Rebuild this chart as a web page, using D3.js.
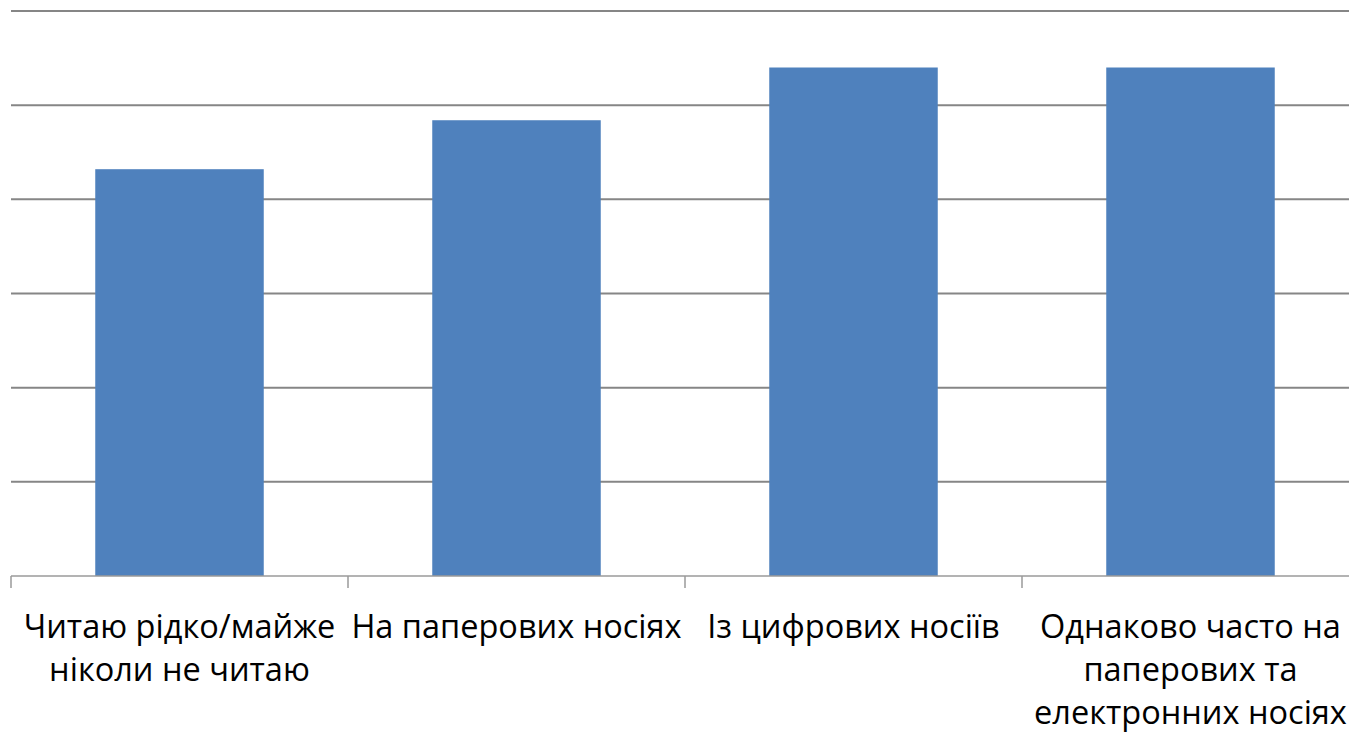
<!DOCTYPE html>
<html>
<head>
<meta charset="utf-8">
<script src="https://cdn.jsdelivr.net/npm/d3@7"></script>
<style>
  body { margin: 0; background: #fff; }
</style>
</head>
<body>
<div id="chart"></div>
<script>
const categories = [
    "Читаю рідко/майже ніколи не читаю",
    "На паперових носіях",
    "Із цифрових носіїв",
    "Однаково часто на паперових та електронних носіях"
];
const labelLines = [
    ["Читаю рідко/майже", "ніколи не читаю"],
    ["На паперових носіях"],
    ["Із цифрових носіїв"],
    ["Однаково часто на", "паперових та", "електронних носіях"]
];
const values = [21.6, 24.2, 27.0, 27.0];
const yTicks = [0, 5, 10, 15, 20, 25, 30];

const BAR = "#4F81BD";
const GRID = "#868686";

const width = 1349, height = 735;
const margin = { top: 11, right: -10, bottom: 159, left: 11 };

let svg = d3.select("#chart").append("svg")
    .attr("width", width)
    .attr("height", height);

let x = d3.scaleBand()
    .domain(categories)
    .range([margin.left, width - margin.right])
    .paddingInner(0.5)
    .paddingOuter(0.25);

let y = d3.scaleLinear()
    .domain([0, 30])
    .range([height - margin.bottom, margin.top]);

// horizontal gridlines
svg.append("g")
    .selectAll("line")
    .data(yTicks.slice(1))
    .join("line")
    .attr("x1", margin.left)
    .attr("x2", width - margin.right)
    .attr("y1", d => y(d))
    .attr("y2", d => y(d))
    .attr("stroke", GRID)
    .attr("stroke-width", 2);

svg.append("g")
    .selectAll("rect")
    .data(values)
    .join("rect")
    .attr("x", (d, i) => x(categories[i]))
    .attr("width", x.bandwidth())
    .attr("y", d => y(d))
    .attr("height", d => y(0) - y(d))
    .attr("fill", BAR);

// category axis with ticks between groups
let step = x.step();
let axis = svg.append("g");
axis.append("line")
    .attr("x1", margin.left)
    .attr("x2", width - margin.right)
    .attr("y1", y(0))
    .attr("y2", y(0))
    .attr("stroke", "#9a9a9a")
    .attr("stroke-width", 1.5);
axis.selectAll(".tick")
    .data(d3.range(categories.length + 1))
    .join("line")
    .attr("class", "tick")
    .attr("x1", i => margin.left + i * step)
    .attr("x2", i => margin.left + i * step)
    .attr("y1", y(0))
    .attr("y2", y(0) + 12)
    .attr("stroke", "#9a9a9a")
    .attr("stroke-width", 1.5);

let labels = axis.selectAll(".label")
    .data(categories)
    .join("text")
    .attr("class", "label")
    .attr("text-anchor", "middle")
    .style("font-family", "'Open Sans', sans-serif")
    .style("font-size", "32.5px")
    .style("fill", "#000");

labels.each(function(d, i) {
    let cx = x(d) + x.bandwidth() / 2;
    d3.select(this).selectAll("tspan")
        .data(labelLines[i])
        .join("tspan")
        .attr("x", cx)
        .attr("y", (t, j) => 638 + j * 43)
        .text(t => t);
});
</script>
</body>
</html>
